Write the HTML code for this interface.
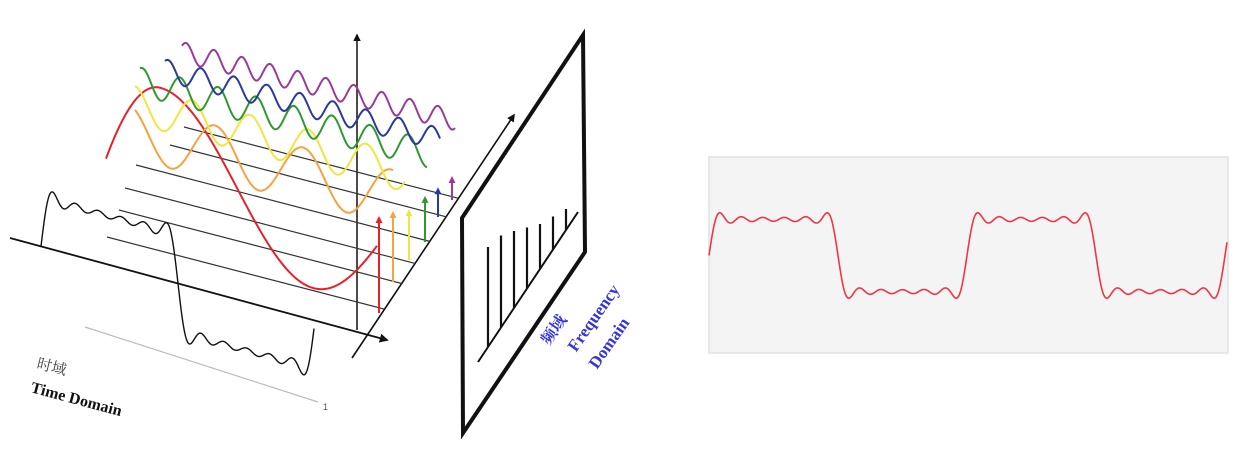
<!DOCTYPE html>
<html><head><meta charset="utf-8"><style>
html,body{margin:0;padding:0;background:#fff;}
svg{display:block;}
</style></head><body>
<svg id="fig" width="1240" height="472" viewBox="0 0 1240 472" xmlns="http://www.w3.org/2000/svg">
<defs>
<marker id="ah" viewBox="0 0 10 10" refX="8" refY="5" markerWidth="5" markerHeight="5" orient="auto"><path d="M0,0L10,5L0,10z" fill="#111"/></marker>
</defs>
<rect x="0" y="0" width="1240" height="472" fill="#fff"/>
<g id="left"></g>
<rect x="709" y="157" width="519" height="196" fill="#f4f4f4" stroke="#e2e2e2" stroke-width="1.5"/>
<g id="right"></g>
<text x="36" y="368" transform="rotate(14 36 368)" font-family="'Liberation Serif','Noto Serif CJK SC',serif" font-size="15" fill="#444">时域</text>
<text x="30" y="392" transform="rotate(15 30 392)" font-family="'Liberation Serif',serif" font-weight="bold" font-size="16" fill="#111">Time Domain</text>
<text x="323" y="410" font-family="'Liberation Sans',sans-serif" font-size="9" fill="#555">1</text>
<g transform="translate(549,346) rotate(-55)" font-family="'Liberation Serif','Noto Serif CJK SC',serif" font-weight="bold" font-size="17" fill="#3535dd">
<text x="0" y="0" font-size="16">频域</text>
<text x="10" y="26">Frequency</text>
<text x="8" y="53">Domain</text>
</g>
</svg>
<script>
// data
const harmonics = [1, 3, 5, 7, 9, 11];
const amplitudes = [1, 0.333, 0.2, 0.143, 0.111, 0.091];
const arrowMagnitudes = [1, 0.73, 0.52, 0.47, 0.30, 0.24];
const panelSpikes = [1, 0.92, 0.77, 0.61, 0.45, 0.33, 0.21];

const NS = 'http://www.w3.org/2000/svg';
function mk(tag, attrs, parent){const e=document.createElementNS(NS,tag);for(const k in attrs)e.setAttribute(k,attrs[k]);parent.appendChild(e);return e;}
function fsum(t){let s=0;for(let i=0;i<harmonics.length;i++)s+=amplitudes[i]*Math.sin(harmonics[i]*t);return s;}

// right plot
const R=document.getElementById('right');
const rx0=709, rx1=1227, rmid=255.5, rPeriod=258, rA=46;
let d='';
for(let x=rx0;x<=rx1;x+=0.5){const t=2*Math.PI*(x-rx0)/rPeriod;const y=rmid-rA*fsum(t);d+=(x===rx0?'M':'L')+x.toFixed(1)+','+y.toFixed(1);}
const rp=mk('path',{d:d,fill:'none',stroke:'#ee3743','stroke-width':'1.6'},R);



// left illustration
const L=document.getElementById('left');
const fa={x0:352,y0:358,x1:514,y1:115};
const fax=mk('line',{x1:fa.x0,y1:fa.y0,x2:fa.x1,y2:fa.y1,stroke:'#111','stroke-width':'1.6','marker-end':'url(#ah)'},L);


const tax=mk('line',{x1:10,y1:238,x2:387,y2:340,stroke:'#111','stroke-width':'1.8','marker-end':'url(#ah)'},L);


const vax=mk('line',{x1:357,y1:330,x2:357,y2:35,stroke:'#111','stroke-width':'1.5','marker-end':'url(#ah)'},L);


const gl=mk('line',{x1:85,y1:327,x2:318,y2:402,stroke:'#bbb','stroke-width':'1.2'},L);



const starts=[[184,127],[170,145],[136,165],[125,188],[119,210],[107,237]];
const slope=0.26;
starts.forEach(function(s){
  const dx=fa.x1-fa.x0, dy=fa.y1-fa.y0;
  const t=(s[1]+slope*(fa.x0-s[0])-fa.y0)/(dy-slope*dx);
  const ex=fa.x0+dx*t, ey=fa.y0+dy*t;
  const ln=mk('line',{x1:s[0],y1:s[1],x2:ex,y2:ey,stroke:'#333','stroke-width':'1.2'},L);
  
  
});

{
  const x0=41,x1=314,per=274,A=62;
  let p='';
  for(let x=x0;x<=x1;x+=0.5){const base=238+0.27*(x-10);const t=2*Math.PI*(x-x0)/per;const y=base-A*fsum(t);p+=(x===x0?'M':'L')+x.toFixed(1)+','+y.toFixed(1);}
  const sq=mk('path',{d:p,fill:'none',stroke:'#111','stroke-width':'1.4'},L);
  
  
}

const comps=[
 {c:'#e8202a',x0:106,x1:377,bx:235,by:187.5,amp:81,per:308,cr:160},
 {c:'#f5a340',x0:135,x1:393,bx:241,by:159,amp:27,per:88,cr:215},
 {c:'#f0e640',x0:135,x1:405,bx:265,by:137.5,amp:19,per:58,cr:250},
 {c:'#2e9a2e',x0:140,x1:427,bx:190,by:94,amp:14,per:38,cr:180},
 {c:'#2a3a9a',x0:165,x1:440,bx:168,by:71,amp:11,per:33,cr:168},
 {c:'#9a3a9a',x0:182,x1:455,bx:182,by:52,amp:10,per:28,cr:186}
];
const names=['red','orange','yellow','green','blue','purple'];
comps.forEach(function(k,i){
  let p='';
  for(let x=k.x0;x<=k.x1;x+=0.5){
    let base=k.by+0.25*(x-k.bx);
    let y=base-k.amp*Math.cos(2*Math.PI*(x-k.cr)/k.per);
    if(i===0 && x<k.cr){ // steeper rising start of red curve
      const f=(k.cr-x)/(k.cr-k.x0); y+= 40*f*f;
    }
    p+=(x===k.x0?'M':'L')+x.toFixed(1)+','+y.toFixed(1);}
  const w=mk('path',{d:p,fill:'none',stroke:k.c,'stroke-width':'2'},L);
  
  
});

const arrowX=[379,393,409,425,438,452];
const arrowBase=[313,282,260,242,217,200];
arrowMagnitudes.forEach(function(m,i){
  const x=arrowX[i], y0=arrowBase[i], y1=y0-96*m;
  const col=comps[i].c;
  const a=mk('line',{x1:x,y1:y0,x2:x,y2:y1+4,stroke:col,'stroke-width':'2'},L);
  
  
  const h=mk('path',{d:'M'+(x-3.5)+','+(y1+6)+'L'+x+','+(y1-1)+'L'+(x+3.5)+','+(y1+6)+'z',fill:col},L);
  
  
});

const pan=mk('polygon',{points:'462,218 583,35 585,252 463,433',fill:'#fff',stroke:'#111','stroke-width':'4','stroke-linejoin':'miter'},L);


{
  const bx0=478,by0=362,bx1=578,by1=212;
  const bl=mk('line',{x1:bx0,y1:by0,x2:bx1,y2:by1,stroke:'#111','stroke-width':'2'},L);
  
  
  panelSpikes.forEach(function(v,i){
    const x=488+i*13;
    const yb=by0+(x-bx0)*(by1-by0)/(bx1-bx0);
    const s=mk('line',{x1:x,y1:yb,x2:x,y2:yb-100*v,stroke:'#111','stroke-width':'2.2'},L);
    
    
  });
}
</script>
</body></html>
